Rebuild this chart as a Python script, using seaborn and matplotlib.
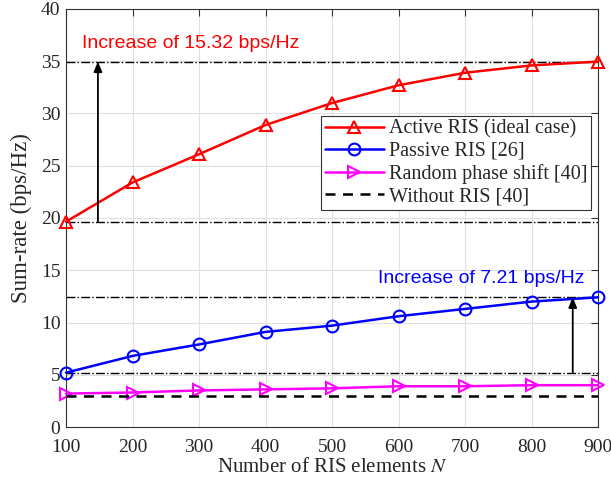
import matplotlib
matplotlib.use("Agg")
import matplotlib.pyplot as plt
import seaborn as sns
import pandas as pd
import numpy as np
from matplotlib.lines import Line2D

N = [100, 200, 300, 400, 500, 600, 700, 800, 900]
active = [19.65, 23.4, 26.1, 28.9, 31.0, 32.7, 33.9, 34.6, 34.97]
passive = [5.2, 6.8, 7.9, 9.1, 9.7, 10.6, 11.3, 12.0, 12.41]
random_ps = [3.2, 3.3, 3.5, 3.6, 3.7, 3.9, 3.9, 4.0, 4.0]
without = [3.0] * 9
labels = ["Active RIS (ideal case)", "Passive RIS [26]", "Random phase shift [40]", "Without RIS [40]"]
xticks = [100, 200, 300, 400, 500, 600, 700, 800, 900]
yticks = [0, 5, 10, 15, 20, 25, 30, 35, 40]

sns.set_style("whitegrid")
plt.rcParams['font.family'] = ['Liberation Serif', 'DejaVu Serif']
plt.rcParams['mathtext.fontset'] = 'stix'

fig = plt.figure(figsize=(6.11, 4.82), dpi=100)
ax = fig.add_axes([66 / 611, 1 - 427 / 482, 532 / 611, 418 / 482])

colors = ["#ff0000", "#0000ff", "#ff00ff", "#000000"]
markers = ['^', 'o', '>', None]
series = [active, passive, random_ps, without]

handles = []
for ys, c, m, lab in zip(series, colors, markers, labels):
    df = pd.DataFrame({"N": N, "rate": ys})
    if m:
        sns.lineplot(data=df, x="N", y="rate", ax=ax, color=c, linewidth=1.8,
                     marker=m, markersize=8.5, markerfacecolor='none',
                     markeredgecolor=c, markeredgewidth=1.5, zorder=3, clip_on=False)
        handles.append(Line2D([], [], color=c, marker=m, mfc='none', mec=c, ms=8.5, mew=1.5, lw=1.8))
    else:
        sns.lineplot(data=df, x="N", y="rate", ax=ax, color=c, linewidth=1.8,
                     linestyle=(0, (4, 3)), zorder=3)
        handles.append(Line2D([], [], color=c, linestyle=(0, (4, 3)), lw=1.8))

# reference dash-dot lines
for yv in [active[-1], active[0], passive[-1], passive[0]]:
    ax.plot([N[0], N[-1]], [yv, yv], color='black', linestyle='-.', linewidth=1.0, zorder=2)

ax.annotate("", xy=(148, active[-1]), xytext=(148, active[0]),
            arrowprops=dict(arrowstyle='-|>,head_length=0.6,head_width=0.25', color='black', lw=1.3,
                            shrinkA=0, shrinkB=0))
ax.annotate("", xy=(862, passive[-1]), xytext=(862, passive[0]),
            arrowprops=dict(arrowstyle='-|>,head_length=0.6,head_width=0.25', color='black', lw=1.3,
                            shrinkA=0, shrinkB=0))

ax.text(124, 36.7, "Increase of 15.32 bps/Hz", color='#ff0000', fontsize=14,
        family=['Liberation Sans', 'DejaVu Sans'], va='center', ha='left')
ax.text(569, 14.25, "Increase of 7.21 bps/Hz", color='#0000ff', fontsize=14,
        family=['Liberation Sans', 'DejaVu Sans'], va='center', ha='left')

leg = ax.legend(handles, labels, loc='upper right', bbox_to_anchor=(0.987, 0.745),
                fontsize=14.5, frameon=True, fancybox=False, edgecolor='#333333',
                handlelength=2.9, handletextpad=0.25, borderpad=0.2, labelspacing=0.15,
                borderaxespad=0)
leg.get_frame().set_linewidth(0.8)
leg.get_frame().set_alpha(1)

ax.set_xlim(100, 900)
ax.set_ylim(0, 40)
ax.set_xticks(xticks)
ax.set_yticks(yticks)
ax.tick_params(axis='both', labelsize=14, direction='in', top=True, right=True, length=5, width=0.8, color='#333333')
ax.tick_params(axis='x', pad=9)
ax.tick_params(axis='y', pad=4)
ax.grid(True, color='#e0e0e0', linewidth=0.8)
for s in ax.spines.values():
    s.set_visible(True)
    s.set_color('#333333')
    s.set_linewidth(0.8)
ax.set_xlabel("Number of RIS elements $N$", fontsize=15, labelpad=1)
ax.set_ylabel("Sum-rate (bps/Hz)", fontsize=16.5, labelpad=6)

fig.savefig("out.png", dpi=100)
